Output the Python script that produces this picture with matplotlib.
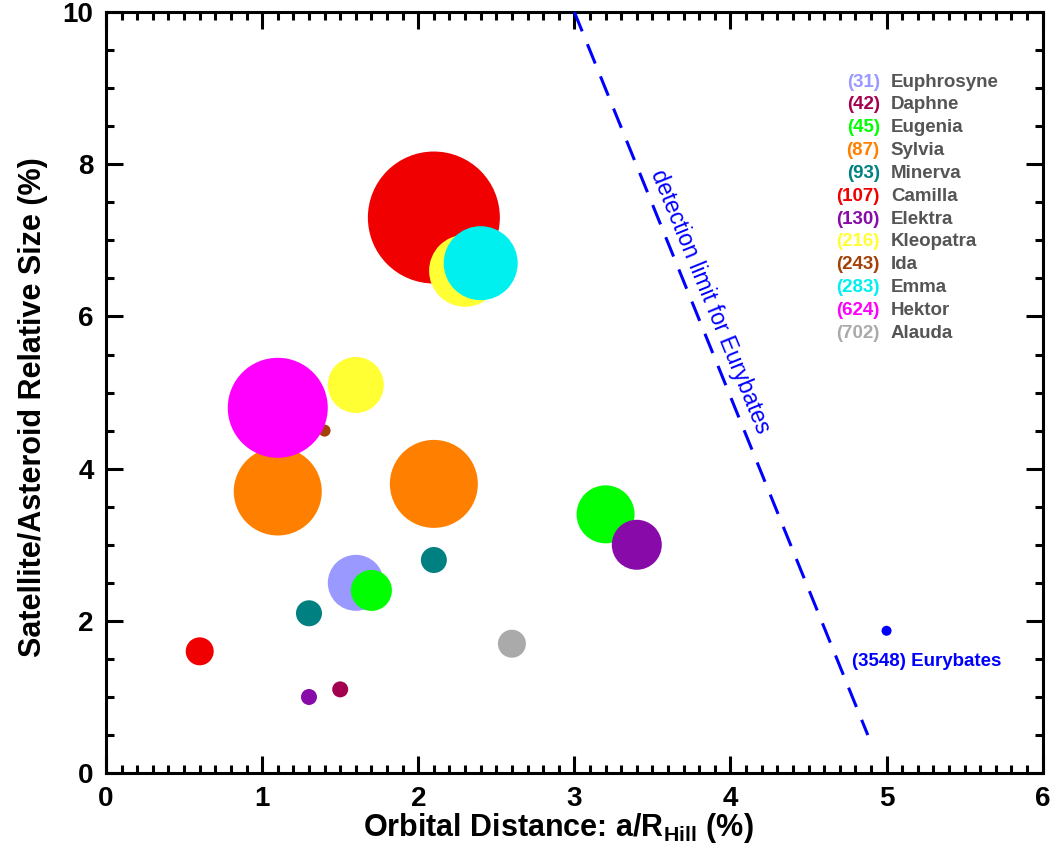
import numpy as np
import matplotlib
matplotlib.use("Agg")
import matplotlib.pyplot as plt

plt.rcParams["font.family"] = ["Liberation Sans", "DejaVu Sans"]
plt.rcParams["font.weight"] = "bold"
plt.rcParams["mathtext.fontset"] = "custom"
plt.rcParams["mathtext.bf"] = "Liberation Sans:bold"
plt.rcParams["mathtext.rm"] = "Liberation Sans:bold"
plt.rcParams["lines.scale_dashes"] = False

# asteroid systems (legend order)
asteroids = ["(31)", "(42)", "(45)", "(87)", "(93)", "(107)", "(130)",
             "(216)", "(243)", "(283)", "(624)", "(702)"]
names = ["Euphrosyne", "Daphne", "Eugenia", "Sylvia", "Minerva", "Camilla",
         "Elektra", "Kleopatra", "Ida", "Emma", "Hektor", "Alauda"]
colors = ["#9999ff", "#a3004f", "#00ff00", "#ff8000", "#008080", "#f00000",
          "#880aa8", "#ffff33", "#a34208", "#00f0f0", "#ff00ff", "#aaaaaa"]

# satellites: (owner index, orbital distance a/RHill %, relative size %, symbol diameter)
sat_owner = [0, 1, 2, 2, 3, 3, 4, 4, 5, 5, 6, 6, 7, 7, 8, 9, 10, 11]
sat_dist = [1.6, 1.5, 1.7, 3.2, 1.1, 2.1, 1.3, 2.1, 0.6, 2.1, 1.3, 3.4,
            1.6, 2.3, 1.4, 2.4, 1.1, 2.6]
sat_size = [2.5, 1.1, 2.4, 3.4, 3.7, 3.8, 2.1, 2.8, 1.6, 7.3, 1.0, 3.0,
            5.1, 6.6, 4.5, 6.7, 4.8, 1.7]
sat_diam = [56, 16, 41, 58, 88, 88, 26, 26, 28, 132, 16, 50,
            56, 72, 12, 74, 100, 28]

# Eurybates and its detection limit
eury_dist, eury_size, eury_diam = 5.0, 1.87, 10
limit_x = [3.0, 4.88]
limit_y = [10.0, 0.5]

fig = plt.figure(figsize=(10.5, 8.59), dpi=100)
ax = fig.add_axes([0.101, 0.100, 0.892, 0.886])

px2pt = 72.0 / fig.dpi
for owner in range(len(names)):
    idx = [i for i, o in enumerate(sat_owner) if o == owner]
    ax.scatter([sat_dist[i] for i in idx], [sat_size[i] for i in idx],
               s=[(sat_diam[i] * px2pt) ** 2 for i in idx],
               color=colors[owner], edgecolors="none", zorder=2)

ax.scatter([eury_dist], [eury_size], s=(eury_diam * px2pt) ** 2,
           color="#0000ff", edgecolors="none", zorder=3)
ax.text(5.26, 1.47, "(3548) Eurybates", color="#0000ff", fontsize=13.5,
        fontweight="bold", ha="center", va="center")

ax.plot(limit_x, limit_y, color="#0000ff", lw=2.2, dashes=(15, 10),
        clip_on=False, zorder=3)
ax.text(3.87, 6.20, "detection limit for Eurybates", color="#0000ff",
        fontsize=16.5, fontweight="normal", rotation=-67.8,
        rotation_mode="anchor", ha="center", va="center")

# legend as coloured text
for k, (num, nm, c) in enumerate(zip(asteroids, names, colors)):
    yy = 0.908 - k * 0.0300
    ax.text(0.826, yy, num, color=c, fontsize=13.5, fontweight="bold",
            ha="right", va="center", transform=ax.transAxes)
    ax.text(0.838, yy, nm, color="#555555", fontsize=13.5, fontweight="bold",
            ha="left", va="center", transform=ax.transAxes)

ax.set_xlim(0, 6)
ax.set_ylim(0, 10)
ax.set_xticks(np.arange(0, 7, 1))
ax.set_yticks(np.arange(0, 11, 2))
ax.set_xticks(np.arange(0, 6.01, 0.1), minor=True)
ax.set_yticks(np.arange(0, 10.01, 0.5), minor=True)
ax.tick_params(which="both", direction="in", top=True, right=True, width=2.2,
               labelsize=20, color="black")
ax.tick_params(which="major", length=12.5, pad=9)
ax.tick_params(which="minor", length=6)
for lab in ax.get_xticklabels() + ax.get_yticklabels():
    lab.set_fontweight("bold")
for sp in ax.spines.values():
    sp.set_linewidth(2.2)

ax.set_xlabel(r"Orbital Distance: a/R$_\mathbf{Hill}$ (%)", fontsize=22,
              fontweight="bold")
ax.set_ylabel("Satellite/Asteroid Relative Size (%)", fontsize=22,
              fontweight="bold")
ax.xaxis.set_label_coords(0.483, -0.050)
ax.yaxis.set_label_coords(-0.062, 0.481)

fig.savefig("out.png", dpi=100)
